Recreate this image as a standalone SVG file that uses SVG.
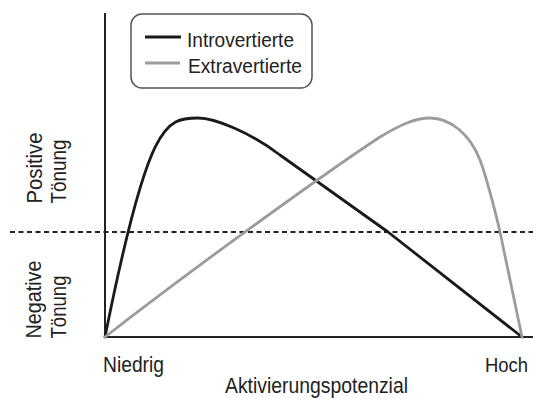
<svg xmlns="http://www.w3.org/2000/svg" width="533" height="399" viewBox="0 0 533 399">
<style>
.lbl{font-family:"Liberation Sans",Arial,sans-serif;fill:#222}
.ax{font-size:22px}
.lg{font-size:20px}
.axis{stroke:#222;stroke-width:2;fill:none}
.intro{stroke:#1a1a1a;stroke-width:2.8;fill:none;stroke-linejoin:round;stroke-linecap:round}
.extra{stroke:#9c9c9c;stroke-width:2.8;fill:none;stroke-linejoin:round;stroke-linecap:round}
</style>
<rect width="533" height="399" fill="#ffffff"/>
<g id="axes">
<line class="axis" x1="105" y1="13" x2="105" y2="337"/>
<line class="axis" x1="104" y1="337" x2="533" y2="337" stroke-width="2.4"/>
<line class="axis" x1="10" y1="232" x2="533" y2="232" stroke-width="1.8" stroke-dasharray="5 3.5"/>
</g>
<g id="connectors">
<path id="curve-intro" class="intro" d="M105,337 C148,122 165,118 198,118 C215,118 250,132.4 280,155 L388,232 L522,337"/>
<path id="curve-extra" class="extra" d="M105,337 C205,259 340,163 380,137 C400,125 415,118 430,118 C450,118 470,134 480,160 C486,175.6 496,214 500,232 L522,337"/>
</g>
<g id="legend">
<rect x="131" y="14" width="181" height="74" rx="11" ry="11" fill="#fff" stroke="#555" stroke-width="1.5"/>
<line x1="145" y1="37" x2="181" y2="37" stroke="#1a1a1a" stroke-width="3"/>
<line x1="145" y1="63" x2="180" y2="63" stroke="#9c9c9c" stroke-width="3"/>
<text class="lbl lg" x="187" y="46.5" textLength="107" lengthAdjust="spacingAndGlyphs">Introvertierte</text>
<text class="lbl lg" x="188" y="72.5" textLength="114" lengthAdjust="spacingAndGlyphs">Extravertierte</text>
</g>
<g id="label-positive">
<text class="lbl ax" transform="translate(41.5,203.5) rotate(-90)" textLength="71" lengthAdjust="spacingAndGlyphs">Positive</text>
<text class="lbl ax" transform="translate(65.5,203.5) rotate(-90)" textLength="64" lengthAdjust="spacingAndGlyphs">Tönung</text>
</g>
<g id="label-negative">
<text class="lbl ax" transform="translate(41,338.5) rotate(-90)" textLength="78" lengthAdjust="spacingAndGlyphs">Negative</text>
<text class="lbl ax" transform="translate(65.5,338.5) rotate(-90)" textLength="63" lengthAdjust="spacingAndGlyphs">Tönung</text>
</g>
<g id="label-x">
<text class="lbl ax" x="103" y="371.5" textLength="61" lengthAdjust="spacingAndGlyphs">Niedrig</text>
<text class="lbl" x="485" y="371.5" font-size="20" textLength="43" lengthAdjust="spacingAndGlyphs">Hoch</text>
<text class="lbl ax" x="225" y="393" textLength="183" lengthAdjust="spacingAndGlyphs">Aktivierungspotenzial</text>
</g>
</svg>
